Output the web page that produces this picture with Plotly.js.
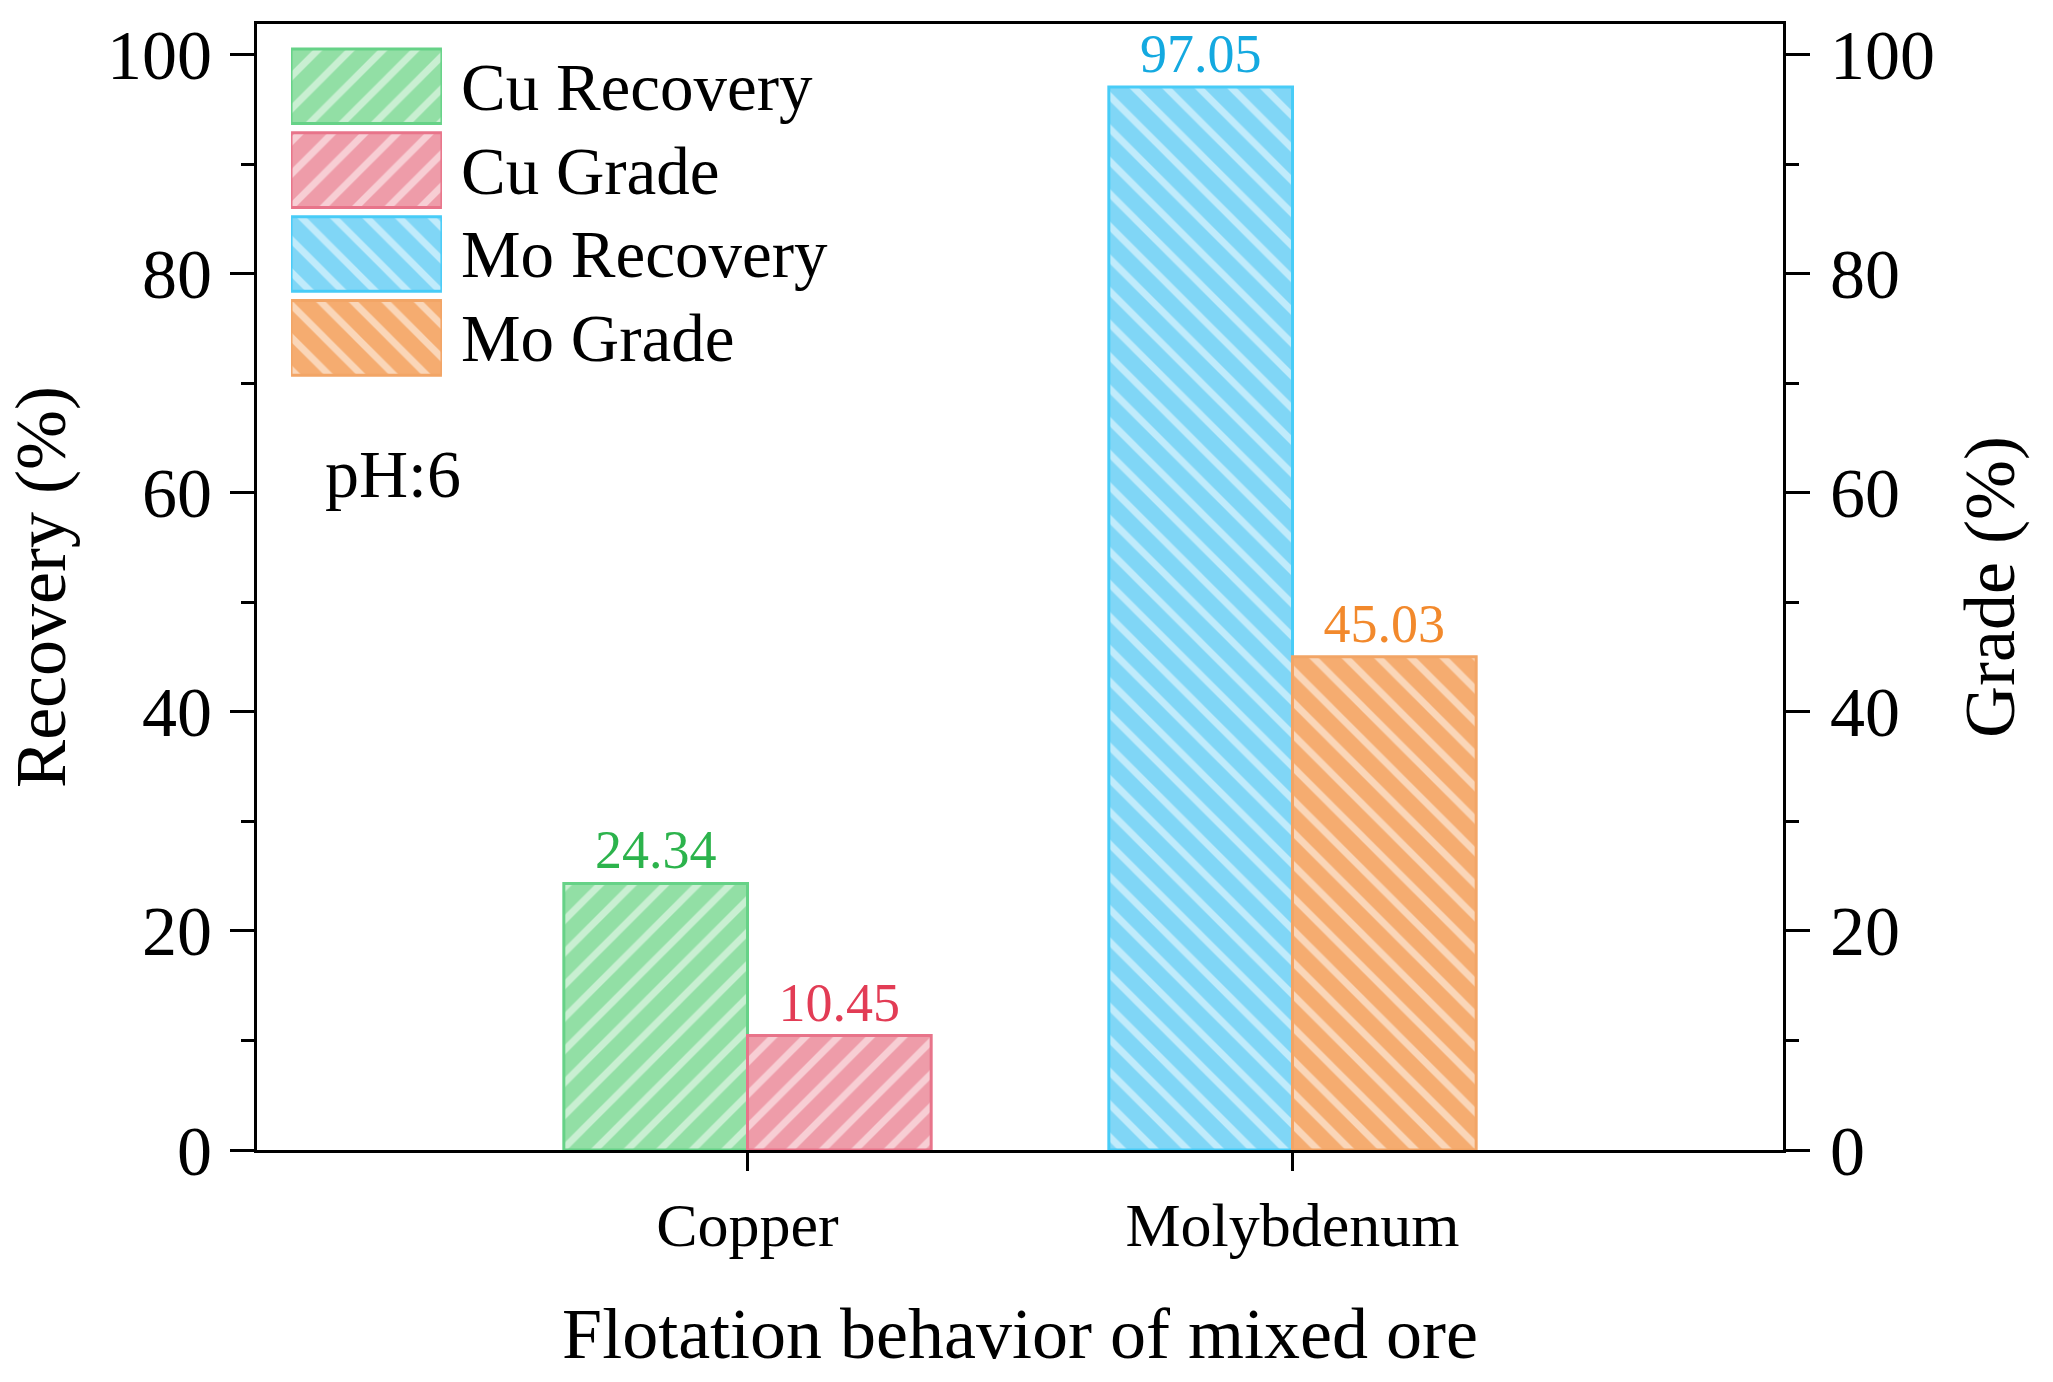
<!DOCTYPE html>
<html>
<head>
<meta charset="utf-8">
<script src="https://cdn.plot.ly/plotly-3.0.1.min.js"></script>
<style>html,body{margin:0;padding:0;background:#fff;}#chart{width:2053px;height:1382px;}</style>
</head>
<body>
<div id="chart"></div>
<script>
// ---- data ----
const categories = ['Copper', 'Molybdenum'];
const seriesNames = ['Cu Recovery', 'Cu Grade', 'Mo Recovery', 'Mo Grade'];
const seriesCategory = ['Copper', 'Copper', 'Molybdenum', 'Molybdenum'];
const seriesValues = [24.34, 10.45, 97.05, 45.03];
const seriesAxis = ['y', 'y2', 'y', 'y2'];
const yTickValues = [0, 20, 40, 60, 80, 100];
const xTitle = 'Flotation behavior of mixed ore';
const yTitle = 'Recovery (%)';
const y2Title = 'Grade (%)';
const noteText = 'pH:6';

// ---- styles ----
const fillColors = ['#92dfa5', '#ee9ca9', '#80d6f6', '#f5ac70'];
const lineColors = ['#66d287', '#e8748a', '#48ccf7', '#f2a566'];
const labelColors = ['#2cb34c', '#e23c55', '#14a9e0', '#f2892c'];
const hatch = ['/', '/', '\\', '\\'];
const barWidth = 0.337;
const barOffset = [-barWidth, 0, -barWidth, 0];
const FONT = '"Liberation Serif", "Times New Roman", serif';

function markerStyle(i) {
  return {
    color: fillColors[i],
    line: {color: lineColors[i], width: 3},
    pattern: {shape: hatch[i], bgcolor: fillColors[i], fgcolor: '#ffffff', size: 23, solidity: 0.3, fillmode: 'overlay'}
  };
}

const traces = seriesNames.map((name, i) => ({
  type: 'bar',
  name: name,
  x: [seriesCategory[i]],
  y: [seriesValues[i]],
  yaxis: seriesAxis[i],
  width: barWidth,
  offset: barOffset[i],
  marker: markerStyle(i),
  text: [seriesValues[i].toFixed(2)],
  textposition: 'outside',
  textfont: {family: FONT, size: 54, color: labelColors[i]},
  cliponaxis: false,
  constraintext: 'none',
  showlegend: false,
  hoverinfo: 'skip'
}));

// legend: one swatch bar per series on a small auxiliary axis, labelled by the series names
seriesNames.forEach((name, i) => {
  traces.push({
    type: 'bar',
    orientation: 'h',
    x: [1],
    y: [name],
    xaxis: 'x3',
    yaxis: 'y3',
    width: 0.89,
    marker: markerStyle(i),
    showlegend: false,
    hoverinfo: 'skip'
  });
});

const axisCommon = {
  showline: true, linecolor: '#000', linewidth: 3,
  ticks: 'outside', ticklen: 24, tickwidth: 3, tickcolor: '#000',
  showgrid: false, zeroline: false,
  range: [0, 102.8], tickvals: yTickValues,
  minor: {dtick: 10, ticks: 'outside', ticklen: 13, tickwidth: 3, tickcolor: '#000', showgrid: false},
  tickfont: {family: FONT, size: 70, color: '#000'}
};

const layout = {
  width: 2053, height: 1382,
  margin: {l: 257, r: 270, t: 24, b: 232},
  paper_bgcolor: '#fff', plot_bgcolor: '#fff',
  showlegend: false,
  barmode: 'overlay',
  font: {family: FONT, color: '#000'},
  xaxis: {
    type: 'category', categoryorder: 'array', categoryarray: categories,
    range: [-0.9, 1.9],
    showline: true, linecolor: '#000', linewidth: 3, mirror: true,
    ticks: 'outside', ticklen: 18, tickwidth: 3, tickcolor: '#000',
    showgrid: false, zeroline: false,
    tickfont: {family: FONT, size: 62, color: '#000'},
    ticklabelstandoff: 1,
    title: {text: xTitle, font: {family: FONT, size: 72, color: '#000'}, standoff: 50}
  },
  yaxis: Object.assign({}, axisCommon, {
    ticklabelstandoff: 4,
    title: {text: yTitle, font: {family: FONT, size: 72, color: '#000'}, standoff: 18}
  }),
  yaxis2: Object.assign({}, axisCommon, {
    overlaying: 'y', side: 'right', anchor: 'x',
    ticklabelstandoff: 6,
    title: {text: y2Title, font: {family: FONT, size: 72, color: '#000'}, standoff: 30}
  }),
  xaxis3: {domain: [0.0223, 0.1212], anchor: 'y3', range: [0, 1], visible: false, fixedrange: true},
  yaxis3: {
    domain: [0.684, 0.982], anchor: 'x3', type: 'category',
    categoryorder: 'array', categoryarray: seriesNames,
    range: [3.5, -0.5], side: 'right',
    showline: false, showgrid: false, zeroline: false, ticks: '',
    ticklabelstandoff: 18,
    tickfont: {family: FONT, size: 67, color: '#000'},
    fixedrange: true
  },
  annotations: [{
    xref: 'paper', yref: 'paper', x: 0.043, y: 0.6,
    xanchor: 'left', yanchor: 'middle', showarrow: false,
    text: noteText, font: {family: FONT, size: 68, color: '#000'}
  }]
};

Plotly.newPlot('chart', traces, layout, {displayModeBar: false, staticPlot: true});
</script>
</body>
</html>
